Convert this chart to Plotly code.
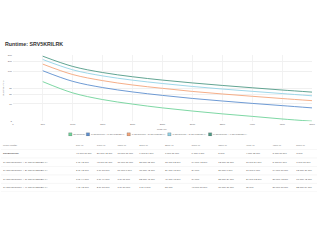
import math
import plotly.graph_objects as go

# ---------------- data ----------------
loads = [500, 1000, 1500, 2000, 2500, 3000, 3500, 4000, 4500, 5000]
config_names = [
    "SRV5KRILRK",
    "1x SRV5KRILRK + 1x SRV192RLBP-9A",
    "1x SRV5KRILRK + 2x SRV192RLBP-9A",
    "1x SRV5KRILRK + 3x SRV192RLBP-9A",
    "1x SRV5KRILRK + 4x SRV192RLBP-9A",
]
rt_base = [47.6, 21.7, 13.6, 9.9, 7.6, 6.1, 5.0, 4.2, 3.5, 3.0]
rt_1bp = [102, 48.6, 31.5, 23.2, 18.2, 14.7, 12.3, 10.4, 8.9, 7.6]
rt_2bp = [162, 78.3, 51.1, 37.7, 29.8, 24.0, 20.1, 17.1, 14.6, 12.6]
rt_3bp = [224, 109, 71.1, 52.8, 41.8, 34.0, 28.4, 24.2, 20.7, 17.7]
rt_4bp = [282, 138, 90.0, 67.0, 53.0, 43.5, 36.5, 31.0, 26.5, 22.9]
y_tick_vals = [3, 10, 20, 30, 100, 200, 300]
x_tick_vals = [0, 500, 1000, 1500, 2000, 2500, 3000, 3500, 4000, 4500, 5000]

series = [rt_base, rt_1bp, rt_2bp, rt_3bp, rt_4bp]
colors = ["#6fd39a", "#5d8fcf", "#f4a57a", "#93d2e6", "#4f9a86"]

FONT = "Liberation Sans, Arial, sans-serif"
W, H = 320, 240


def fmt(m):
    total = int(round(m * 60))
    if total >= 3600:
        h = total // 3600
        mi = (total % 3600) // 60
        return f"{h} hr {mi} min" if mi else f"{h} hr"
    mi = total // 60
    s = total % 60
    return f"{mi} min {s} sec" if s else f"{mi} min"


fig = go.Figure()

# ---------------- chart ----------------
for name, vals, col in zip(config_names, series, colors):
    fig.add_trace(go.Scatter(
        x=loads, y=vals, name=name, mode="lines",
        line=dict(color=col, width=0.9, shape="spline", smoothing=1.0),
        showlegend=False, xaxis="x", yaxis="y",
    ))

# ---------------- custom legend (compact) ----------------
leg_font = 1.9
box = 3.2
def est_w(s, size):
    return len(s) * 0.56 * size
widths = [box + 1 + est_w(n, leg_font) + 3 for n in config_names]
total_w = sum(widths)
start = 160 - total_w / 2
leg_x = []
acc = start
for w_ in widths:
    leg_x.append(acc + box / 2)
    acc += w_
fig.add_trace(go.Scatter(
    x=leg_x, y=[0] * len(config_names), mode="markers+text",
    marker=dict(symbol="square", size=box, color=colors,
                line=dict(color="#555", width=0.3)),
    text=config_names, textposition="middle right",
    textfont=dict(size=leg_font, color="#666", family=FONT),
    xaxis="x3", yaxis="y3", showlegend=False, hoverinfo="skip",
))

# ---------------- table as text on hidden axes ----------------
col_widths = [74, 21, 21, 22, 26, 27, 27, 28, 27, 24, 21]
col_starts = [2]
for cw in col_widths[:-1]:
    col_starts.append(col_starts[-1] + cw)
header = ["Load (Watts)"] + [f"{l} W" for l in loads]
fig.add_trace(go.Scatter(
    x=col_starts, y=[0] * len(header), mode="text", text=header,
    textposition="middle right",
    textfont=dict(size=2.5, color="#777", family=FONT),
    xaxis="x2", yaxis="y2", showlegend=False, hoverinfo="skip",
))
for r, (name, vals) in enumerate(zip(config_names, series), start=1):
    row_text = [("<b>%s</b>" % name) if r == 1 else name] + [fmt(v) for v in vals]
    fig.add_trace(go.Scatter(
        x=col_starts, y=[r] * len(row_text), mode="text", text=row_text,
        textposition="middle right",
        textfont=dict(size=2.5, color="#555", family=FONT),
        xaxis="x2", yaxis="y2", showlegend=False, hoverinfo="skip",
    ))

shapes = []
for r in range(len(config_names) + 1):
    shapes.append(dict(type="line", xref="paper", yref="y2", x0=0, x1=1,
                       y0=r + 0.5, y1=r + 0.5,
                       line=dict(color="#ececec", width=0.5)))

hidden = dict(visible=False, showgrid=False, zeroline=False, fixedrange=True)

fig.update_layout(
    width=W, height=H,
    margin=dict(l=0, r=0, t=0, b=0),
    paper_bgcolor="white", plot_bgcolor="white",
    font=dict(family=FONT, size=2.6, color="#666"),
    xaxis=dict(domain=[12 / W, 315 / W], range=[0, 5000],
               tickvals=x_tick_vals, ticks="",
               tickfont=dict(size=2.4, color="#666"),
               showgrid=True, gridcolor="#f2f2f2", gridwidth=0.5,
               zeroline=False, showline=False),
    yaxis=dict(type="log", domain=[(H - 121.7) / H, (H - 55) / H],
               range=[math.log10(3), math.log10(300)],
               tickvals=y_tick_vals, ticktext=[str(v) for v in y_tick_vals],
               ticks="", tickfont=dict(size=2.4, color="#666"),
               showgrid=True, gridcolor="#f0f0f0", gridwidth=0.5,
               zeroline=False, showline=False),
    xaxis2=dict(domain=[0, 1], range=[0, W], anchor="y2", **hidden),
    yaxis2=dict(domain=[(H - 193.3) / H, (H - 141.7) / H],
                range=[5.5, -0.5], anchor="x2", **hidden),
    xaxis3=dict(domain=[0, 1], range=[0, W], anchor="y3", **hidden),
    yaxis3=dict(domain=[(H - 137) / H, (H - 133) / H], range=[-1, 1],
                anchor="x3", **hidden),
    shapes=shapes,
    annotations=[
        dict(text="<b>Runtime: SRV5KRILRK</b>", xref="paper", yref="paper",
             x=2 / W, y=(H - 44) / H, xanchor="left", yanchor="middle",
             showarrow=False, font=dict(size=5.3, color="#333", family=FONT)),
        dict(text="Load (W)", xref="paper", yref="paper",
             x=163 / W, y=(H - 130) / H, xanchor="center", yanchor="middle",
             showarrow=False, font=dict(size=2.4, color="#666", family=FONT)),
        dict(text="Runtime (min)", xref="paper", yref="paper",
             x=2.7 / W, y=(H - 88) / H, xanchor="center", yanchor="middle",
             textangle=-90, showarrow=False,
             font=dict(size=2.4, color="#666", family=FONT)),
    ],
)

fig.write_html("out.html")
